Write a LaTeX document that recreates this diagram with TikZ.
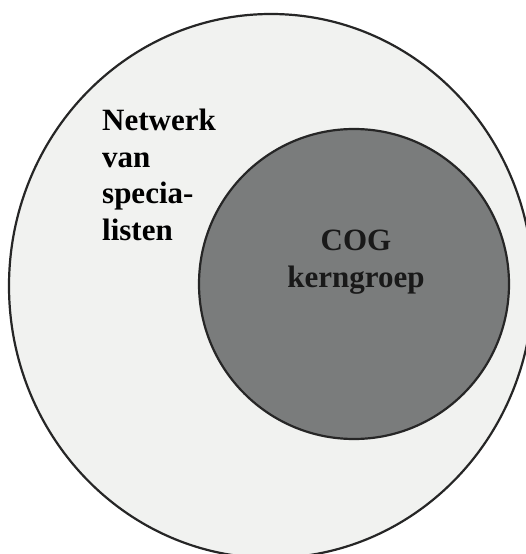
\documentclass[tikz,border=0pt]{standalone}
\usepackage{fontspec}
\setmainfont{Liberation Serif}
\definecolor{netwerkgrijs}{RGB}{241,242,240}
\definecolor{kerngrijs}{RGB}{122,124,124}
\begin{document}
\begin{tikzpicture}[x=1pt,y=-1pt,font=\bfseries\fontsize{31}{36.5}\selectfont]
\useasboundingbox[fill=white] (0,0) rectangle (526,554);
\tikzset{rand/.style={draw=black!85,line width=2.2pt}}

% buitenste ellips: netwerk
\coordinate (n) at (271,286);
\draw[rand,fill=netwerkgrijs] (n) ellipse [x radius=262,y radius=272];

% binnenste cirkel: kerngroep
\coordinate (k) at (354,284);
\draw[rand,fill=kerngrijs] (k) circle [radius=155];

\node[anchor=north west,align=left,inner sep=0pt] (netwerk) at (102,109) {Netwerk\\van\\specia-\\listen};
\node[align=center,inner sep=0pt,text=black!90] (cog) at (356,262) {COG\\kerngroep};

\end{tikzpicture}
\end{document}
